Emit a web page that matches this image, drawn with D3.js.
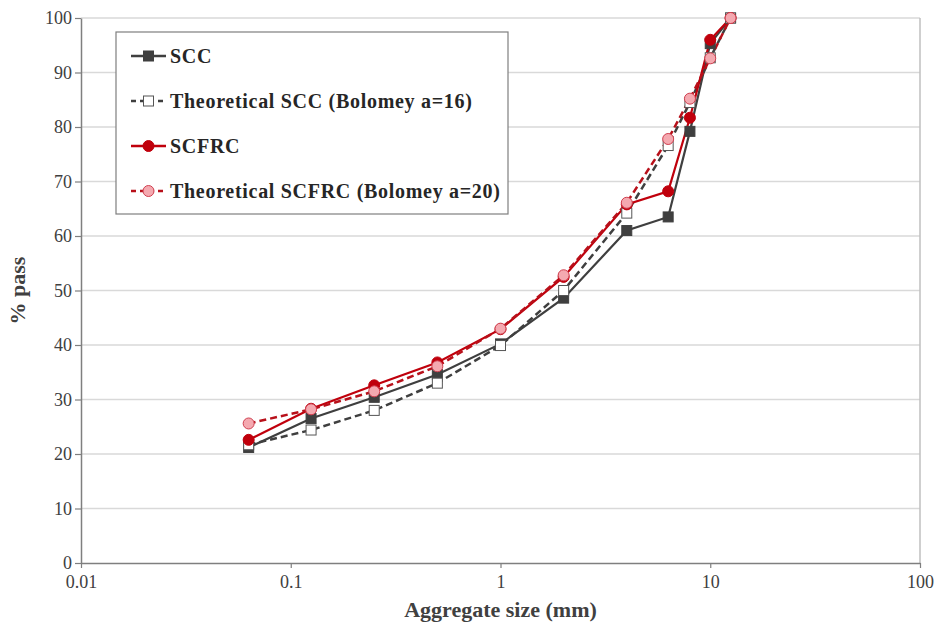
<!DOCTYPE html>
<html>
<head>
<meta charset="utf-8">
<script src="https://cdn.jsdelivr.net/npm/d3@7"></script>
<style>
  body { margin: 0; background: #fff; }
  text { font-family: "Liberation Serif", "Times New Roman", serif; }
</style>
</head>
<body>
<div id="chart"></div>
<script>
// sieve sizes (mm)
var sizes = [0.063, 0.125, 0.25, 0.5, 1, 2, 4, 6.3, 8, 10, 12.5];
var scc = [21.2, 26.5, 30.4, 34.6, 40.2, 48.6, 61.0, 63.5, 79.2, 95.3, 100];
var sccTheo = [21.7, 24.4, 28.0, 33.0, 39.9, 50.0, 64.2, 76.6, 84.5, 92.7, 100];
var scfrc = [22.6, 28.3, 32.6, 36.8, 42.9, 52.5, 65.8, 68.2, 81.7, 96.0, 100];
var scfrcTheo = [25.6, 28.2, 31.5, 36.1, 43.0, 52.8, 66.1, 77.8, 85.2, 92.6, 100];
var xTicks = [0.01, 0.1, 1, 10, 100];
var yTicks = [0, 10, 20, 30, 40, 50, 60, 70, 80, 90, 100];

var series = [
    {name: "SCC", values: scc, color: "#3f3f3f", dash: null, shape: "square", fill: "#3f3f3f", stroke: "#3f3f3f"},
    {name: "Theoretical SCC (Bolomey a=16)", values: sccTheo, color: "#3f3f3f", dash: "7,4", shape: "square", fill: "#ffffff", stroke: "#555"},
    {name: "SCFRC", values: scfrc, color: "#c0000c", dash: null, shape: "circle", fill: "#c0000c", stroke: "#c0000c"},
    {name: "Theoretical SCFRC (Bolomey a=20)", values: scfrcTheo, color: "#b8101a", dash: "7,4", shape: "circle", fill: "#f4a9b0", stroke: "#d04050"}
];

var width = 946, height = 626;
var svg = d3.select("#chart").append("svg")
    .attr("width", width)
    .attr("height", height);

var plotLeft = 81, plotRight = 920, plotTop = 18, plotBottom = 563;

var xScale = d3.scaleLog().domain([0.01, 100]).range([plotLeft, plotRight]);
var yScale = d3.scaleLinear().domain([0, 100]).range([plotBottom, plotTop]);

// grid
svg.append("g").selectAll("line")
    .data(yTicks.filter(function (d) { return d > 0; }))
    .enter().append("line")
    .attr("x1", plotLeft).attr("x2", plotRight)
    .attr("y1", function (d) { return yScale(d); })
    .attr("y2", function (d) { return yScale(d); })
    .attr("stroke", "#d9d9d9")
    .attr("stroke-width", 1.5);

// right border
svg.append("line")
    .attr("x1", plotRight).attr("x2", plotRight)
    .attr("y1", plotTop).attr("y2", plotBottom)
    .attr("stroke", "#bfbfbf")
    .attr("stroke-width", 1.5);

// axes
var xAxis = svg.append("g")
    .attr("transform", "translate(0," + plotBottom + ")")
    .call(d3.axisBottom(xScale).tickValues(xTicks).tickFormat(function (d) { return String(d); }).tickSize(5).tickSizeOuter(0));
var yAxis = svg.append("g")
    .attr("transform", "translate(" + plotLeft + ",0)")
    .call(d3.axisLeft(yScale).tickValues(yTicks).tickSize(6).tickSizeOuter(0));

[xAxis, yAxis].forEach(function (ax) {
    ax.select(".domain").attr("stroke", "#7f7f7f").attr("stroke-width", 1.5);
    ax.selectAll(".tick line").attr("stroke", "#7f7f7f").attr("stroke-width", 1.2);
    ax.selectAll(".tick text")
        .attr("font-family", "Liberation Serif, Times New Roman, serif")
        .attr("font-size", 18)
        .attr("fill", "#404040");
});
xAxis.selectAll(".tick text").attr("dy", "0.95em");
yAxis.selectAll(".tick text").attr("x", -9);

// axis titles
svg.append("text")
    .attr("x", (plotLeft + plotRight) / 2)
    .attr("y", 617)
    .attr("text-anchor", "middle")
    .attr("font-size", 22)
    .attr("font-weight", "bold")
    .attr("fill", "#404040")
    .text("Aggregate size (mm)");
svg.append("text")
    .attr("transform", "translate(25," + (plotTop + plotBottom) / 2 + ") rotate(-90)")
    .attr("text-anchor", "middle")
    .attr("font-size", 22)
    .attr("font-weight", "bold")
    .attr("fill", "#404040")
    .text("% pass");

var line_generator = d3.line()
    .x(function (d) { return xScale(d.x); })
    .y(function (d) { return yScale(d.y); });

function drawMarker(g, s, cx, cy) {
    if (s.shape === "square") {
        g.append("rect")
            .attr("x", cx - 5).attr("y", cy - 5)
            .attr("width", 10).attr("height", 10)
            .attr("fill", s.fill).attr("stroke", s.stroke).attr("stroke-width", 1);
    } else {
        g.append("circle")
            .attr("cx", cx).attr("cy", cy).attr("r", 5.5)
            .attr("fill", s.fill).attr("stroke", s.stroke).attr("stroke-width", 1);
    }
}

// lines
series.forEach(function (s) {
    var pts = sizes.map(function (x, i) { return {x: x, y: s.values[i]}; });
    svg.append("path")
        .attr("d", line_generator(pts))
        .attr("fill", "none")
        .attr("stroke", s.color)
        .attr("stroke-width", s.dash ? 2.5 : 2.2)
        .attr("stroke-dasharray", s.dash);
});
// markers
series.forEach(function (s) {
    var g = svg.append("g");
    sizes.forEach(function (x, i) {
        drawMarker(g, s, xScale(x), yScale(s.values[i]));
    });
});

// legend
var legend = svg.append("g");
legend.append("rect")
    .attr("x", 116).attr("y", 32)
    .attr("width", 392).attr("height", 182)
    .attr("fill", "#fff")
    .attr("stroke", "#7f7f7f")
    .attr("stroke-width", 1.2);
var legendY = [56, 101, 146, 191];
series.forEach(function (s, i) {
    var y = legendY[i];
    legend.append("line")
        .attr("x1", 131).attr("x2", 166)
        .attr("y1", y).attr("y2", y)
        .attr("stroke", s.color)
        .attr("stroke-width", 2.4)
        .attr("stroke-dasharray", s.dash ? "5,4" : null);
    drawMarker(legend, s, 148.5, y);
    legend.append("text")
        .attr("x", 170).attr("y", y)
        .attr("dy", "0.35em")
        .attr("font-size", 20)
        .attr("letter-spacing", 0.7)
        .attr("font-weight", "bold")
        .attr("fill", "#262626")
        .text(s.name);
});
</script>
</body>
</html>
